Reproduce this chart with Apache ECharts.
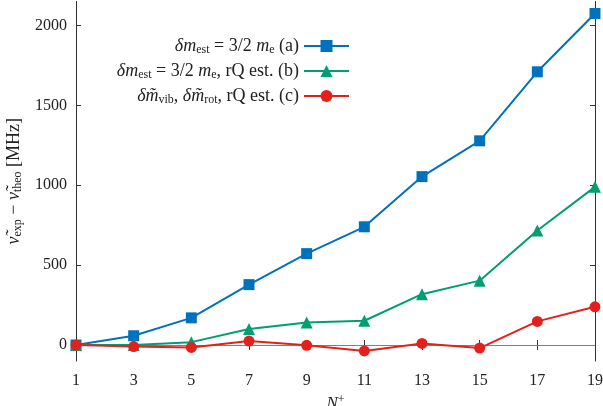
<!DOCTYPE html>
<html>
<head>
<meta charset="utf-8">
<script src="https://cdn.jsdelivr.net/npm/echarts@6/dist/echarts.min.js"></script>
<style>
html, body { margin: 0; padding: 0; background: #fff; }
#chart { width: 603px; height: 406px; }
</style>
</head>
<body>
<div id="chart"></div>
<script>
var nValues = [1, 3, 5, 7, 9, 11, 13, 15, 17, 19];
var seriesA = [0, 58, 170, 378, 572, 740, 1054, 1278, 1710, 2075];
var seriesB = [0, 0, 18, 100, 141, 152, 318, 403, 717, 990];
var seriesC = [0, -10, -15, 25, -2, -37, 10, -19, 148, 239];
var xTicks = [1, 3, 5, 7, 9, 11, 13, 15, 17, 19];
var yTicks = [0, 500, 1000, 1500, 2000];

var serif = 'Liberation Serif';
var colA = '#0072bd', colB = '#009e73', colC = '#e3211c';

var legendText = {
    a: '{i|δm}{s|est}{n| = 3/2 }{i|m}{s|e}{n| (a)}',
    b: '{i|δm}{s|est}{n| = 3/2 }{i|m}{s|e}{n|, rQ est. (b)}',
    c: '{i|δm̃}{s|vib}{n|, }{i|δm̃}{s|rot}{n|, rQ est. (c)}'
};

function pairs(ys) {
    return nValues.map(function (x, i) { return [x, ys[i]]; });
}

var richBase = {
    n: { fontFamily: serif, fontSize: 18, color: '#222', lineHeight: 20 },
    i: { fontFamily: serif, fontSize: 18, fontStyle: 'italic', color: '#222', lineHeight: 20 },
    s: { fontFamily: serif, fontSize: 12, color: '#222', lineHeight: 12, verticalAlign: 'bottom' }
};

var frameLine = { show: true, lineStyle: { color: '#333', width: 1 } };

var myChart = echarts.init(document.getElementById('chart'));
var option = {
    animation: false,
    backgroundColor: '#fff',
    grid: { left: 76, right: 8, top: 1.5, bottom: 45, containLabel: false, outerBoundsMode: 'none' },
    legend: {
        orient: 'vertical',
        right: 248,
        top: 32,
        align: 'right',
        itemWidth: 45,
        itemHeight: 15,
        itemGap: 6,
        data: ['a', 'b', 'c'],
        formatter: function (name) { return legendText[name]; },
        textStyle: { rich: richBase, padding: [0, 0, 0, 0] }
    },
    xAxis: [{
        type: 'value',
        min: 1,
        max: 19,
        name: '{i|N}{p|+}',
        nameLocation: 'middle',
        nameGap: 19,
        nameTextStyle: {
            verticalAlign: 'top',
            rich: {
                i: { fontFamily: serif, fontSize: 17, fontStyle: 'italic', color: '#222', lineHeight: 20 },
                p: { fontFamily: serif, fontSize: 12, color: '#222', lineHeight: 12, verticalAlign: 'top' }
            }
        },
        axisLine: frameLine,
        axisTick: { show: true, inside: true, length: 5, customValues: xTicks, lineStyle: { color: '#333' } },
        axisLabel: { customValues: xTicks, fontFamily: serif, fontSize: 16, color: '#222', margin: 12, formatter: function (v) { return String(v); } },
        splitLine: { show: false }
    }, {
        type: 'value',
        position: 'top',
        min: 1,
        max: 19,
        axisLine: frameLine,
        axisTick: { show: true, inside: true, length: 5, customValues: xTicks, lineStyle: { color: '#333' } },
        axisLabel: { show: false },
        splitLine: { show: false }
    }],
    yAxis: [{
        type: 'value',
        min: -100,
        max: 2150,
        name: '{i|ν̃}{s|exp}{n| − }{i|ν̃}{s|theo}{n| [MHz]}',
        nameLocation: 'middle',
        nameRotate: 90,
        nameGap: 52,
        nameTextStyle: { rich: richBase },
        axisLine: frameLine,
        axisTick: { show: true, inside: true, length: 5, customValues: yTicks, lineStyle: { color: '#333' } },
        axisLabel: { customValues: yTicks, fontFamily: serif, fontSize: 16, color: '#222', margin: 9, formatter: function (v) { return String(v); } },
        splitLine: { show: false }
    }, {
        type: 'value',
        position: 'right',
        min: -100,
        max: 2150,
        axisLine: frameLine,
        axisTick: { show: true, inside: true, length: 5, customValues: yTicks, lineStyle: { color: '#333' } },
        axisLabel: { show: false },
        splitLine: { show: false }
    }],
    series: [{
        name: 'a',
        type: 'line',
        data: pairs(seriesA),
        symbol: 'rect',
        symbolSize: 11,
        color: colA,
        lineStyle: { width: 2 },
        z: 3,
        markLine: {
            silent: true,
            symbol: 'none',
            label: { show: false },
            lineStyle: { color: '#808080', width: 1, type: 'solid' },
            data: [{ yAxis: 0 }],
            z: 1
        }
    }, {
        name: 'b',
        type: 'line',
        data: pairs(seriesB),
        symbol: 'triangle',
        symbolSize: 12,
        color: colB,
        lineStyle: { width: 2 },
        z: 4
    }, {
        name: 'c',
        type: 'line',
        data: pairs(seriesC),
        symbol: 'circle',
        symbolSize: 11,
        color: colC,
        lineStyle: { width: 2 },
        z: 5
    }]
};
myChart.setOption(option);

window.addEventListener('resize', function () {
    myChart.resize();
});
</script>
</body>
</html>
